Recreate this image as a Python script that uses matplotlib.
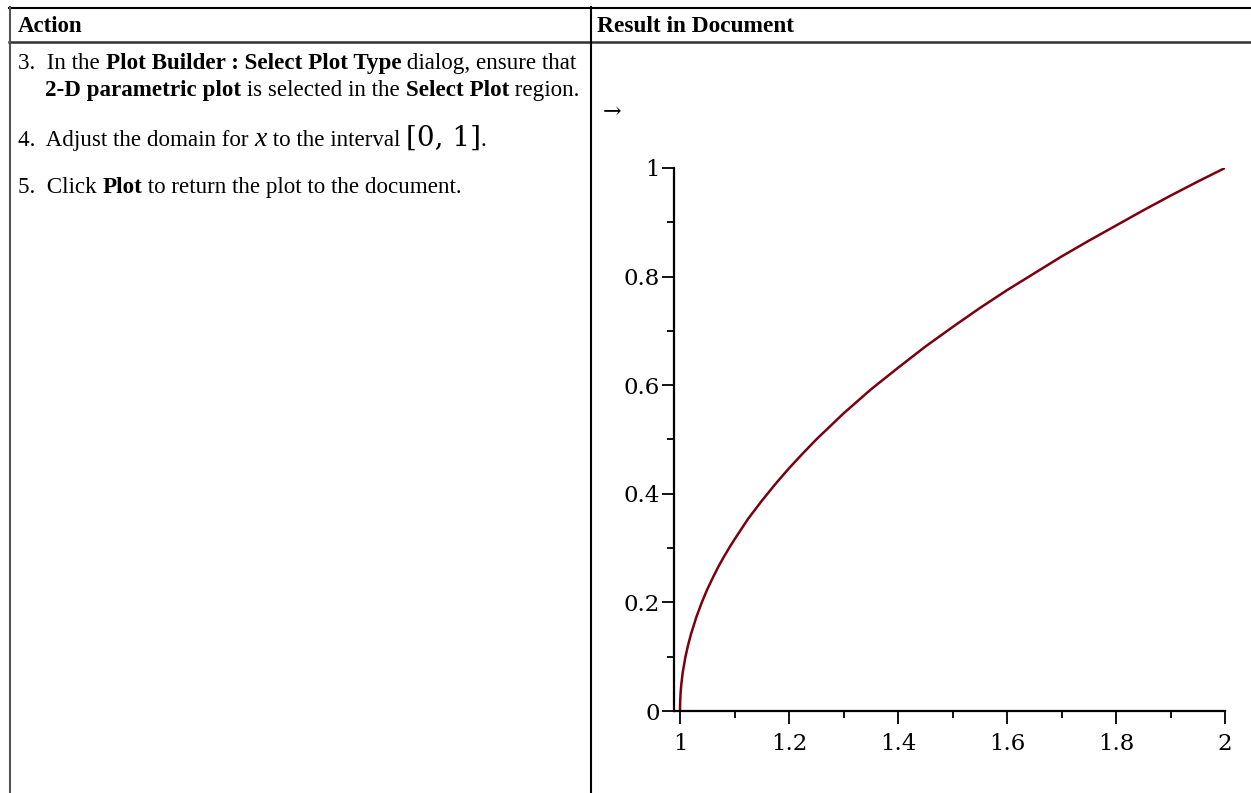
import numpy as np
import matplotlib.pyplot as plt
from matplotlib.lines import Line2D

# %% data
curve_x = [1.0, 1.0001, 1.0004, 1.001, 1.0025, 1.005, 1.01, 1.015, 1.02, 1.03,
           1.04, 1.05, 1.06, 1.07, 1.08, 1.09, 1.1, 1.125, 1.15, 1.175, 1.2,
           1.225, 1.25, 1.275, 1.3, 1.35, 1.4, 1.45, 1.5, 1.55, 1.6, 1.65,
           1.7, 1.75, 1.8, 1.85, 1.9, 1.95, 2.0]
curve_y = [0.0, 0.01, 0.02, 0.032, 0.05, 0.071, 0.1, 0.122, 0.141, 0.173,
           0.2, 0.224, 0.245, 0.265, 0.283, 0.3, 0.316, 0.354, 0.387, 0.418,
           0.447, 0.474, 0.5, 0.524, 0.548, 0.592, 0.632, 0.671, 0.707, 0.742,
           0.775, 0.806, 0.837, 0.866, 0.894, 0.922, 0.949, 0.975, 1.0]
x_ticks = [1, 1.2, 1.4, 1.6, 1.8, 2]
x_labels = ["1", "1.2", "1.4", "1.6", "1.8", "2"]
y_ticks = [0, 0.2, 0.4, 0.6, 0.8, 1]
y_labels = ["0", "0.2", "0.4", "0.6", "0.8", "1"]

headers = ["Action", "Result in Document"]
steps = [
    [[("3.  In the ", "normal"), ("Plot Builder : Select Plot Type", "bold"), (" dialog, ensure that", "normal")],
     [("2-D parametric plot", "bold"), (" is selected in the ", "normal"), ("Select Plot", "bold"), (" region.", "normal")]],
    [[("4.  Adjust the domain for ", "normal"), ("x", "italic"), (" to the interval ", "normal"), ("[0, 1]", "math"), (".", "normal")]],
    [[("5.  Click ", "normal"), ("Plot", "bold"), (" to return the plot to the document.", "normal")]],
]

W, H = 1251, 793
fig = plt.figure(figsize=(W / 100, H / 100), dpi=100)
serif = "Liberation Serif"

# %% table lines (pixel coordinates)
def px_line(x0, y0, x1, y1, color="black", lw=1.5):
    fig.add_artist(Line2D([x0 / W, x1 / W], [1 - y0 / H, 1 - y1 / H],
                          transform=fig.transFigure, color=color, lw=lw))

px_line(9, 7.5, W, 7.5)
px_line(9, 41.5, W, 41.5, color="#333333", lw=1.8)
px_line(9.5, 7, 9.5, H, color="#555555", lw=1.5)
px_line(590.5, 7, 590.5, H, lw=1.5)

fig.text(18 / W, 1 - 32 / H, headers[0], fontsize=16.5, fontweight="bold",
         family=serif, va="baseline")
fig.text(597 / W, 1 - 32 / H, headers[1], fontsize=16.8, fontweight="bold",
         family=serif, va="baseline")

# %% rich text lines, drawn piece by piece
renderer = fig.canvas.get_renderer()

def draw_line(pieces, x_px, y_px):
    x = x_px
    for txt, style in pieces:
        kw = dict(fontsize=16.6, family=serif, va="baseline")
        if style == "bold":
            kw["fontweight"] = "bold"
        elif style == "italic":
            kw["fontstyle"] = "italic"
            kw["fontsize"] = 20
        elif style == "math":
            kw["family"] = "DejaVu Serif"
            kw["fontsize"] = 20
        t = fig.text(x / W, 1 - y_px / H, txt, **kw)
        bb = t.get_window_extent(renderer)
        x += bb.width
    return x

baselines = [[69, 96], [146], [193]]
for step, ys in zip(steps, baselines):
    for i, (pieces, yb) in enumerate(zip(step, ys)):
        draw_line(pieces, 18 if i == 0 else 45, yb)

fig.text(603 / W, 1 - 119 / H, "\u2192", fontsize=16, family="DejaVu Serif",
         va="baseline")

# %% the plot
ax_l, ax_r, ax_b, ax_t = 674, 1225, 711, 168
ax = fig.add_axes([ax_l / W, 1 - ax_b / H, (ax_r - ax_l) / W, (ax_b - ax_t) / H])
ax.plot(curve_x, curve_y, color="#7a0010", lw=1.8, solid_capstyle="butt")
ax.set_xlim(1 - 6 / 545, 2)
ax.set_ylim(0, 1)
for s in ["top", "right"]:
    ax.spines[s].set_visible(False)
for s in ["left", "bottom"]:
    ax.spines[s].set_linewidth(1.6)
ax.set_xticks(x_ticks)
ax.set_xticklabels(x_labels, family="DejaVu Serif", fontsize=16.5)
ax.set_yticks(y_ticks)
ax.set_yticklabels(y_labels, family="DejaVu Serif", fontsize=16.5)
ax.set_xticks(np.arange(1.1, 2.0, 0.2), minor=True)
ax.set_yticks(np.arange(0.1, 1.0, 0.2), minor=True)
ax.tick_params(which="major", length=9, width=1.3)
ax.tick_params(which="minor", length=5, width=1.3)
ax.tick_params(axis="x", which="major", pad=7)
ax.tick_params(axis="y", which="both", direction="out", pad=1)
ax.patch.set_alpha(0)

fig.savefig("out.png", dpi=100)
